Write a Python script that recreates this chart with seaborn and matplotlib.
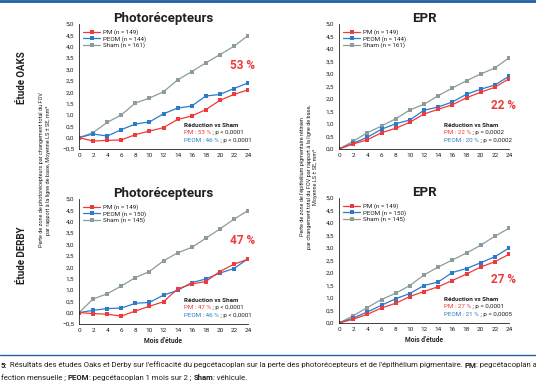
import matplotlib
matplotlib.use("Agg")
import matplotlib.pyplot as plt
from matplotlib.ticker import FuncFormatter, MultipleLocator
import pandas as pd
import seaborn as sns

MONTHS = [0, 2, 4, 6, 8, 10, 12, 14, 16, 18, 20, 22, 24]

# OAKS - photorecepteurs
OAKS_PR_PM = [0, -0.15, -0.12, -0.10, 0.13, 0.29, 0.44, 0.80, 0.95, 1.23, 1.64, 1.90, 2.10]
OAKS_PR_PEOM = [0, 0.16, 0.07, 0.35, 0.60, 0.69, 1.05, 1.30, 1.39, 1.83, 1.90, 2.16, 2.41]
OAKS_PR_SHAM = [0, 0.22, 0.67, 1.00, 1.52, 1.74, 2.02, 2.54, 2.90, 3.29, 3.65, 4.02, 4.49]
# OAKS - EPR
OAKS_EPR_PM = [0, 0.20, 0.37, 0.65, 0.83, 1.07, 1.40, 1.59, 1.77, 2.05, 2.27, 2.47, 2.81]
OAKS_EPR_PEOM = [0, 0.23, 0.47, 0.79, 1.01, 1.16, 1.55, 1.68, 1.88, 2.19, 2.39, 2.56, 2.91]
OAKS_EPR_SHAM = [0, 0.31, 0.65, 0.92, 1.21, 1.56, 1.79, 2.13, 2.44, 2.73, 3.00, 3.24, 3.65]
# DERBY - photorecepteurs
DERBY_PR_PM = [0, -0.04, -0.07, -0.15, 0.07, 0.28, 0.48, 1.04, 1.26, 1.37, 1.81, 2.13, 2.35]
DERBY_PR_PEOM = [0, 0.10, 0.18, 0.20, 0.41, 0.45, 0.77, 0.98, 1.32, 1.48, 1.74, 1.94, 2.37]
DERBY_PR_SHAM = [0, 0.60, 0.83, 1.17, 1.54, 1.81, 2.28, 2.63, 2.87, 3.27, 3.68, 4.11, 4.49]
# DERBY - EPR
DERBY_EPR_PM = [0, 0.15, 0.35, 0.60, 0.79, 1.06, 1.26, 1.45, 1.70, 1.96, 2.24, 2.45, 2.75]
DERBY_EPR_PEOM = [0, 0.20, 0.44, 0.71, 0.97, 1.18, 1.50, 1.64, 2.02, 2.18, 2.41, 2.65, 3.00]
DERBY_EPR_SHAM = [0, 0.29, 0.62, 0.94, 1.19, 1.50, 1.92, 2.24, 2.52, 2.80, 3.11, 3.47, 3.79]

OAKS_LABELS = ["PM (n = 149)", "PEOM (n = 144)", "Sham (n = 161)"]
DERBY_LABELS = ["PM (n = 149)", "PEOM (n = 150)", "Sham (n = 145)"]

PANELS = [
    # title, series, labels, big pct, pm line, peom line, ymin
    ("Photorécepteurs", (OAKS_PR_PM, OAKS_PR_PEOM, OAKS_PR_SHAM), OAKS_LABELS, "53 %",
     ("PM : 53 %", " ; p < 0,0001"), ("PEOM : 46 %", " ; p < 0,0001"), -0.5),
    ("EPR", (OAKS_EPR_PM, OAKS_EPR_PEOM, OAKS_EPR_SHAM), OAKS_LABELS, "22 %",
     ("PM : 22 %", " ; p = 0,0002"), ("PEOM : 20 %", " ; p = 0,0002"), 0.0),
    ("Photorécepteurs", (DERBY_PR_PM, DERBY_PR_PEOM, DERBY_PR_SHAM), DERBY_LABELS, "47 %",
     ("PM : 47 %", " ; p < 0,0001"), ("PEOM : 46 %", " ; p < 0,0001"), -0.5),
    ("EPR", (DERBY_EPR_PM, DERBY_EPR_PEOM, DERBY_EPR_SHAM), DERBY_LABELS, "27 %",
     ("PM : 27 %", " ; p = 0,0001"), ("PEOM : 21 %", " ; p = 0,0005"), 0.0),
]

COLORS = ["#ee3a3a", "#2a7bcb", "#8c9c9a"]
DARK = "#231f20"
BLUE_RULE = "#1f5fa8"

sns.set_theme(style="white")
plt.rcParams["font.family"] = ["Roboto", "DejaVu Sans"]
plt.rcParams["axes.edgecolor"] = DARK
plt.rcParams["text.color"] = DARK

fig = plt.figure(figsize=(5.36, 3.86), dpi=100)
W, H = 536, 386


def px_axes(x0, x1, ytop, ybot):
    return fig.add_axes([x0 / W, 1 - ybot / H, (x1 - x0) / W, (ybot - ytop) / H])


def chained_text(first, parts, **kw):
    # put each part right after the previous one
    prev = first
    for txt, style in parts:
        prev = fig.axes[0].annotate(txt, xy=(1, 0.5), xycoords=prev, ha="left", va="center",
                                    annotation_clip=False, **style, **kw)
    return prev


axes = [
    px_axes(79, 248, 24, 149),
    px_axes(339, 509, 24, 149),
    px_axes(79, 248, 199, 324),
    px_axes(339, 509, 198, 323),
]

comma = FuncFormatter(lambda v, _: f"{v:.1f}".replace(".", ",").replace("-", "\u2212"))

for ax, (title, series, labels, pct, pm_txt, peom_txt, ymin) in zip(axes, PANELS):
    df = pd.DataFrame({
        "mois": MONTHS * 3,
        "valeur": list(series[0]) + list(series[1]) + list(series[2]),
        "groupe": [labels[0]] * 13 + [labels[1]] * 13 + [labels[2]] * 13,
    })
    sns.lineplot(data=df, x="mois", y="valeur", hue="groupe", hue_order=labels[::-1],
                 palette=COLORS[::-1], marker="s", markersize=2.6, markeredgewidth=0,
                 linewidth=0.9, ax=ax, legend=False)
    handles = [plt.Line2D([], [], color=c, marker="s", markersize=2.6, markeredgewidth=0,
                          linewidth=0.9) for c in COLORS]
    ax.legend(handles, labels, loc="upper left", bbox_to_anchor=(0.0, 0.99), frameon=False,
              fontsize=4.5, handlelength=2.6, handletextpad=0.6, labelspacing=0.12,
              borderaxespad=0.3)
    ax.set_xlim(0, 24)
    ax.set_ylim(ymin, 5.0)
    ax.xaxis.set_major_locator(MultipleLocator(2))
    ax.yaxis.set_major_locator(MultipleLocator(0.5))
    ax.yaxis.set_major_formatter(comma)
    ax.tick_params(labelsize=4.6, length=2, width=0.5, pad=1.5, colors=DARK)
    ax.tick_params(axis="x", length=1.5)
    for side in ["top", "right"]:
        ax.spines[side].set_visible(False)
    for side in ["left", "bottom"]:
        ax.spines[side].set_linewidth(0.6)
    ax.set_xlabel("")
    ax.set_ylabel("")
    ax.set_title(title, fontsize=9.5, fontweight="bold", pad=1.5)

    ax.text(1.04, 0.67 if ymin < 0 else 0.345, pct, transform=ax.transAxes, ha="right",
            va="center", fontsize=8.5, fontweight="bold", color=COLORS[0], clip_on=False)
    ax.text(0.62, 0.185, "Réduction vs Sham", transform=ax.transAxes, ha="left", va="center",
            fontsize=4.5, fontweight="bold")
    for y, (colored, rest), c in [(0.13, pm_txt, COLORS[0]), (0.07, peom_txt, COLORS[1])]:
        t = ax.text(0.62, y, colored, transform=ax.transAxes, ha="left", va="center",
                    fontsize=4.5, color=c)
        ax.annotate(rest, xy=(1, 0.5), xycoords=t, ha="left", va="center", fontsize=4.5,
                    color=DARK)

for ax in axes[2:]:
    ax.set_xlabel("Mois d'étude", fontsize=4.8, fontweight="bold", labelpad=3)

# study labels
fig.text(22 / W, 1 - 78 / H, "Étude OAKS", rotation=90, ha="center", va="center",
         fontsize=7, fontweight="bold")
fig.text(22 / W, 1 - 255 / H, "Étude DERBY", rotation=90, ha="center", va="center",
         fontsize=7, fontweight="bold")

# shared y labels
fig.text(45 / W, 1 - 170 / H,
         "Perte de zone de photorécepteurs par changement total du FOV\n"
         "par rapport à la ligne de base, Moyenne LS ± SE, mm²",
         rotation=90, ha="center", va="center", fontsize=4.0, linespacing=1.3,
         multialignment="center")
fig.text(309 / W, 1 - 177 / H,
         "Perte de zone de l'épithélium pigmentaire rétinien\n"
         "par changement total du FOV par rapport à la ligne de base,\n"
         "Moyenne LS ± SE, mm²",
         rotation=90, ha="center", va="center", fontsize=4.0, linespacing=1.3,
         multialignment="center")

# rules
fig.add_artist(plt.Line2D([0, 1], [1 - 1 / H, 1 - 1 / H], transform=fig.transFigure,
                          color=BLUE_RULE, linewidth=2))
fig.add_artist(plt.Line2D([0, 1], [1 - 355 / H, 1 - 355 / H], transform=fig.transFigure,
                          color=BLUE_RULE, linewidth=1))

# caption
BOLD = {"fontweight": "bold"}
NORMAL = {"fontweight": "normal"}
CAPTION_1 = [(" Résultats des études Oaks et Derby sur l'efficacité du pegcétacoplan sur la perte "
              "des photorécepteurs et de l'épithélium pigmentaire. ", NORMAL),
             ("PM", BOLD), (": pegcétacoplan a", NORMAL)]
CAPTION_2 = [("PEOM", BOLD), (": pegcétacoplan 1 mois sur 2 ; ", NORMAL),
             ("Sham", BOLD), (": véhicule.", NORMAL)]
cap_size = 5.55
first1 = fig.text(1 / W, 1 - 365 / H, "5:", fontsize=cap_size, fontweight="bold",
                  ha="left", va="center")
chained_text(first1, CAPTION_1, fontsize=cap_size)
first2 = fig.text(1 / W, 1 - 378 / H, "fection mensuelle ; ", fontsize=cap_size,
                  ha="left", va="center")
chained_text(first2, CAPTION_2, fontsize=cap_size)

fig.savefig("out.png", dpi=100)
